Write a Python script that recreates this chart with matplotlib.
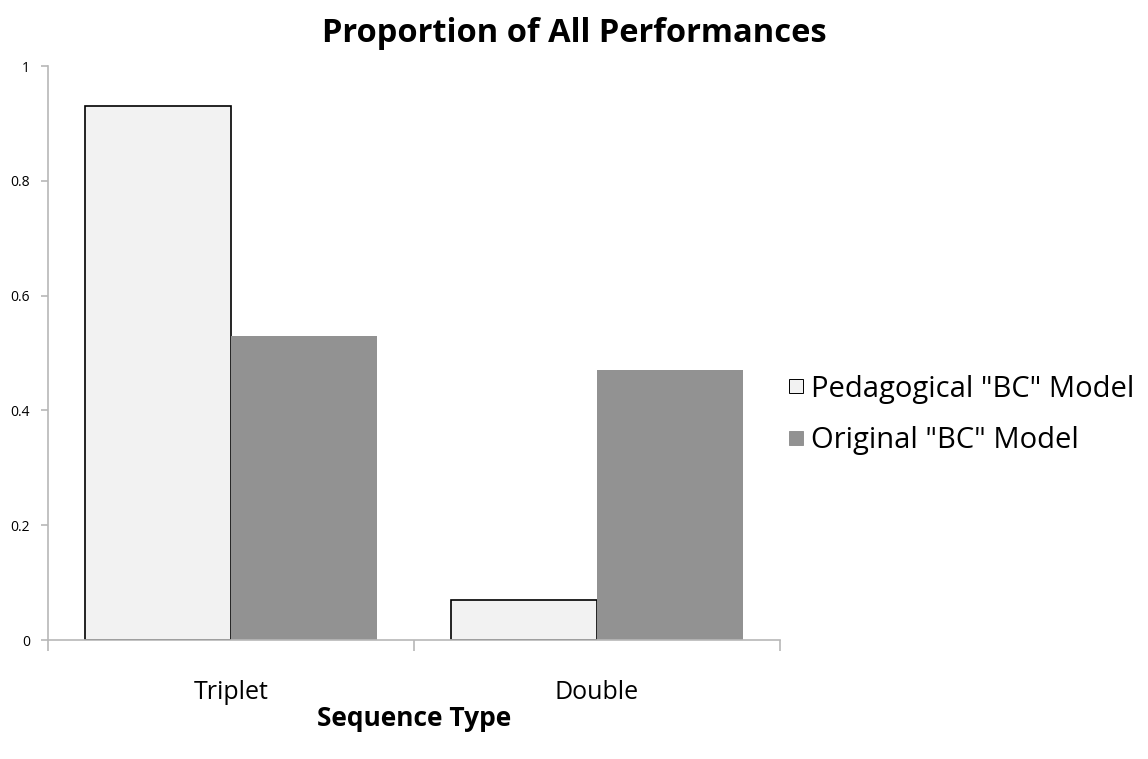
import numpy as np
import matplotlib.pyplot as plt
from matplotlib.lines import Line2D

categories = ["Triplet", "Double"]
series_names = ['Pedagogical "BC" Model', 'Original "BC" Model']
pedagogical = [0.93, 0.07]
original = [0.53, 0.47]
yticks = [0, 0.2, 0.4, 0.6, 0.8, 1]
ytick_labels = ["0", "0.2", "0.4", "0.6", "0.8", "1"]

plt.rcParams['font.family'] = ['Open Sans', 'DejaVu Sans']

fig = plt.figure(figsize=(11.48, 7.59), dpi=100)
ax = fig.add_axes([48 / 1148, 119 / 759, 732 / 1148, 574 / 759])

x = np.arange(len(categories)) + 0.5
w = 0.4
b1 = ax.bar(x - w / 2, pedagogical, w, color="#f2f2f2", edgecolor="black", linewidth=1.2)
b2 = ax.bar(x + w / 2, original, w, color="#929292", edgecolor="none")

ax.set_xlim(0, 2)
ax.set_ylim(0, 1)
ax.set_xticks([0, 1, 2])
ax.set_xticklabels([])
ax.set_xticks(x, minor=True)
ax.set_xticklabels(categories, minor=True, fontsize=18)
ax.tick_params(axis="x", which="minor", length=0, pad=29)
ax.tick_params(axis="x", which="major", length=8, color="#b8b8b8", width=1.2, direction="out")
ax.set_yticks(yticks)
ax.set_yticklabels(ytick_labels, fontsize=10)
ax.tick_params(axis="y", length=5, color="#b8b8b8", width=1.2, direction="out", pad=8)

for s in ["top", "right"]:
    ax.spines[s].set_visible(False)
for s in ["left", "bottom"]:
    ax.spines[s].set_color("#b8b8b8")
    ax.spines[s].set_linewidth(1.2)

ax.set_xlabel("Sequence Type", fontsize=19, fontweight="bold", labelpad=0)
fig.text(0.5, 1 - 34 / 759, "Proportion of All Performances", ha="center", va="center",
         fontsize=23.5, fontweight="bold")

handles = [Line2D([], [], linestyle="none", marker="s", markersize=9.5,
                  markerfacecolor="#f2f2f2", markeredgecolor="black", markeredgewidth=0.7),
           Line2D([], [], linestyle="none", marker="s", markersize=9.5,
                  markerfacecolor="#929292", markeredgecolor="#929292", markeredgewidth=0.7)]
fig.legend(handles, series_names, loc="center left", bbox_to_anchor=(789 / 1148, 1 - 415 / 759),
           frameon=False, fontsize=21, handlelength=0.45, handletextpad=0.3,
           labelspacing=0.78, borderpad=0, borderaxespad=0)

fig.savefig("out.png", dpi=100)
